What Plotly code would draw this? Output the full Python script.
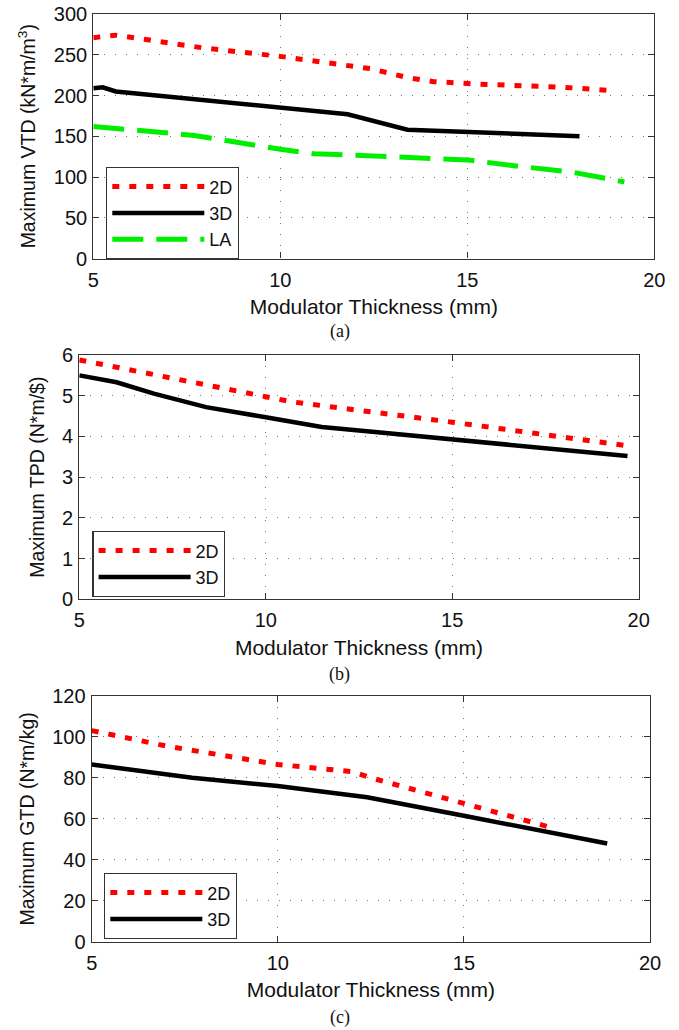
import plotly.graph_objects as go

# ---------------- data ----------------
# panel (a) Maximum VTD
a_2d_x = [5, 5.6, 6.5, 8, 10, 11.8, 12.4, 13.4, 14.1, 15.3, 17.6, 18.9]
a_2d_y = [271, 274, 268, 258, 248, 237.5, 233, 222, 217, 214, 210, 206]
a_3d_x = [5, 5.25, 5.6, 8, 10, 11.8, 13.4, 15, 18]
a_3d_y = [209, 210, 205, 194, 185, 177, 158, 155, 150]
a_la_x = [5, 7.7, 10, 10.9, 11.8, 13.4, 15, 16.4, 17.8, 19.2]
a_la_y = [162, 151, 134, 128.5, 127, 124.5, 121, 113, 106, 94]

# panel (b) Maximum TPD
b_2d_x = [5, 8, 10, 10.7, 15, 19.7]
b_2d_y = [5.88, 5.35, 5.0, 4.85, 4.35, 3.77]
b_3d_x = [5, 6, 7, 8.4, 10, 11.5, 13, 15, 17, 19.7]
b_3d_y = [5.5, 5.33, 5.05, 4.72, 4.47, 4.23, 4.1, 3.93, 3.76, 3.52]

# panel (c) Maximum GTD
c_2d_x = [5, 7, 10, 12, 12.5, 15, 17.3]
c_2d_y = [103, 95.5, 86.5, 83, 80, 67.5, 56]
c_3d_x = [5, 7.7, 10, 12.4, 15, 18.85]
c_3d_y = [86.5, 80, 76, 70.5, 61.5, 48]

x_title = "Modulator Thickness (mm)"
y_titles = ["Maximum VTD (kN*m/m<sup>3</sup>)", "Maximum TPD (N*m/$)", "Maximum GTD (N*m/kg)"]
y_ranges = [[0, 300], [0, 6], [0, 120]]
y_dticks = [50, 1, 20]
captions = ["(a)", "(b)", "(c)"]

# ---------------- styling ----------------
W, H = 679, 1030
FONT = "Liberation Sans, Arial, Helvetica, sans-serif"
TXT = "#111"
RED = "#ff0000"
BLACK = "#000000"
GREEN = "#00ee00"
DOT = "7px,10px"
DASH = "31px,13px"

# panel pixel boxes: left, right, top, bottom
boxes = [(93.3, 654.3, 14, 258.5), (79.3, 638.7, 355, 599.3), (91.7, 650, 695.7, 942)]
legend_pos = [(106, 167), (92.3, 531), (104, 873)]
caption_y = [331, 675, 1017]

fig = go.Figure()

def add(x, y, name, color, dash, idx):
    sfx = "" if idx == 0 else str(idx + 1)
    fig.add_trace(go.Scatter(
        x=x, y=y, name=name, mode="lines",
        line=dict(color=color, width=5 if dash else 4.5, dash=dash or "solid"),
        xaxis="x" + sfx, yaxis="y" + sfx,
        legend="legend" + sfx,
    ))

add(a_2d_x, a_2d_y, "2D", RED, DOT, 0)
add(a_3d_x, a_3d_y, "3D", BLACK, None, 0)
add(a_la_x, a_la_y, "LA", GREEN, DASH, 0)
add(b_2d_x, b_2d_y, "2D", RED, DOT, 1)
add(b_3d_x, b_3d_y, "3D", BLACK, None, 1)
add(c_2d_x, c_2d_y, "2D", RED, DOT, 2)
add(c_3d_x, c_3d_y, "3D", BLACK, None, 2)

layout = dict(
    width=W, height=H,
    margin=dict(l=0, r=0, t=0, b=0, autoexpand=False),
    paper_bgcolor="white", plot_bgcolor="white",
    font=dict(family=FONT, size=20, color=TXT),
    showlegend=True,
)

axis_common = dict(
    showline=True, linecolor="#333", linewidth=1.3, mirror="ticks",
    ticks="inside", ticklen=6, tickcolor="#333", tickwidth=1.3,
    showgrid=True, gridcolor="#777", gridwidth=1, griddash="1px,10px",
    zeroline=False, automargin=False,
    tickfont=dict(size=20, family=FONT, color=TXT),
)

annotations = []
for i, (l, r, t, b) in enumerate(boxes):
    sfx = "" if i == 0 else str(i + 1)
    layout["xaxis" + sfx] = dict(
        axis_common, domain=[l / W, r / W], range=[5, 20], dtick=5, tick0=5,
        anchor="y" + sfx, ticklabelstandoff=3,
        title=dict(text=x_title, font=dict(size=21, family=FONT, color=TXT), standoff=9),
    )
    layout["yaxis" + sfx] = dict(
        axis_common, domain=[(H - b) / H, (H - t) / H], range=y_ranges[i],
        dtick=y_dticks[i], tick0=0, anchor="x" + sfx, ticklabelstandoff=1,
        title=dict(text=y_titles[i], font=dict(size=19.5, family=FONT, color=TXT), standoff=12),
    )
    lx, ly = legend_pos[i]
    layout["legend" + sfx] = dict(
        x=lx / W, y=(H - ly) / H, xanchor="left", yanchor="top",
        xref="paper", yref="paper",
        bgcolor="white", bordercolor="#333", borderwidth=1.3,
        font=dict(size=18, family=FONT, color=TXT),
        itemwidth=92, tracegroupgap=0,
    )
    annotations.append(dict(
        text=captions[i], x=0.5, y=(H - caption_y[i]) / H, xref="paper", yref="paper",
        showarrow=False, xanchor="center", yanchor="middle",
        font=dict(family="Liberation Serif, Times New Roman, serif", size=18, color=TXT),
    ))

layout["annotations"] = annotations
fig.update_layout(**layout)
fig.write_html(
    "out.html",
    config={"displayModeBar": False},
    post_script="document.body.style.margin='0';document.body.style.overflow='hidden';",
)
